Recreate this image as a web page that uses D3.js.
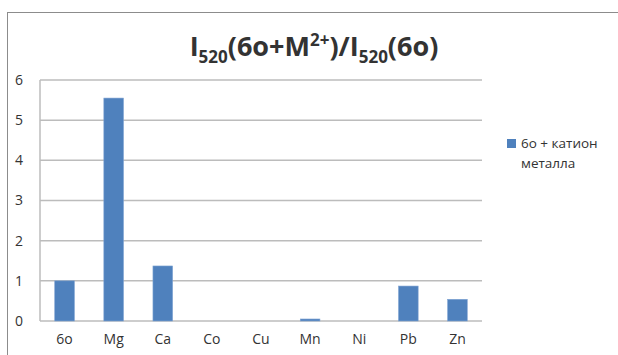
<!DOCTYPE html>
<html>
<head>
<meta charset="utf-8">
<script src="https://cdn.jsdelivr.net/npm/d3@7"></script>
<style>
  body { margin: 0; background: #fff; }
  text { font-family: "Open Sans", "Liberation Sans", sans-serif; fill: #333; }
</style>
</head>
<body>
<div id="chart"></div>
<script>
// data
var categories = ['6o', 'Mg', 'Ca', 'Co', 'Cu', 'Mn', 'Ni', 'Pb', 'Zn'];
var values = [1.0, 5.55, 1.37, 0, 0, 0.05, 0, 0.87, 0.54];
var yTicks = [0, 1, 2, 3, 4, 5, 6];
var seriesName = ['6o + катион', 'металла'];

var width = 618, height = 355;
var plot = { left: 40, right: 482, top: 80, bottom: 321 };
var barColor = '#4f81bd';

var svg = d3.select('#chart').append('svg')
  .attr('width', width)
  .attr('height', height);

// chart area frame (runs off right and bottom)
svg.append('rect')
  .attr('x', 7.5).attr('y', 12.5)
  .attr('width', 640).attr('height', 380)
  .attr('fill', 'none')
  .attr('stroke', '#8c8c8c')
  .attr('stroke-width', 1);

var x = d3.scaleBand().domain(categories).range([plot.left, plot.right]).paddingInner(0.6).paddingOuter(0.3);
var y = d3.scaleLinear().domain([0, 6]).range([plot.bottom, plot.top]);

// gridlines
svg.append('g')
  .selectAll('line')
  .data(yTicks)
  .enter().append('line')
  .attr('x1', plot.left).attr('x2', plot.right)
  .attr('y1', function (d) { return y(d); })
  .attr('y2', function (d) { return y(d); })
  .attr('stroke', '#bcbcbc')
  .attr('stroke-width', 1.5);

// left axis line
svg.append('line')
  .attr('x1', plot.left).attr('x2', plot.left)
  .attr('y1', plot.top).attr('y2', plot.bottom)
  .attr('stroke', '#bcbcbc')
  .attr('stroke-width', 1.5);

// bars
svg.append('g')
  .selectAll('rect')
  .data(values)
  .enter().append('rect')
  .attr('x', function (d, i) { return x(categories[i]); })
  .attr('y', function (d) { return y(d); })
  .attr('width', x.bandwidth())
  .attr('height', function (d) { return y(0) - y(d); })
  .attr('fill', barColor)
  .attr('stroke', '#7fa3d2')
  .attr('stroke-width', function (d) { return d > 0 ? 0.6 : 0; });

// y tick labels
var yAxis = d3.axisLeft(y).tickValues(yTicks).tickFormat(d3.format('d')).tickSize(0).tickPadding(0);
var gy = svg.append('g').attr('transform', 'translate(23,0)').call(yAxis);
gy.select('.domain').remove();
gy.selectAll('text')
  .style('font-family', '"Open Sans", sans-serif')
  .style('font-size', '14px')
  .attr('fill', '#333');

// x tick labels
var xAxis = d3.axisBottom(x).tickSize(0).tickPadding(0);
var gx = svg.append('g').attr('transform', 'translate(0,334)').call(xAxis);
gx.select('.domain').remove();
gx.selectAll('text')
  .style('font-family', '"Open Sans", sans-serif')
  .style('font-size', '14px')
  .attr('fill', '#333');

// title
var title = svg.append('text')
  .attr('x', 314).attr('y', 56)
  .attr('text-anchor', 'middle')
  .style('font-size', '27px')
  .style('font-weight', 'bold')
  .attr('fill', '#000');
title.append('tspan').text('I');
title.append('tspan').attr('dy', 7).style('font-size', '17px').text('520');
title.append('tspan').attr('dy', -7).text('(6o+M');
title.append('tspan').attr('dy', -10).style('font-size', '17px').text('2+');
title.append('tspan').attr('dy', 10).text(')/I');
title.append('tspan').attr('dy', 7).style('font-size', '17px').text('520');
title.append('tspan').attr('dy', -7).text('(6o)');

// legend
svg.append('rect')
  .attr('x', 507).attr('y', 139)
  .attr('width', 9).attr('height', 9)
  .attr('fill', barColor);
svg.append('g')
  .selectAll('text')
  .data(seriesName)
  .enter().append('text')
  .attr('x', 521)
  .attr('y', function (d, i) { return 148 + i * 20; })
  .style('font-size', '13.5px')
  .attr('fill', '#333')
  .text(function (d) { return d; });
</script>
</body>
</html>
